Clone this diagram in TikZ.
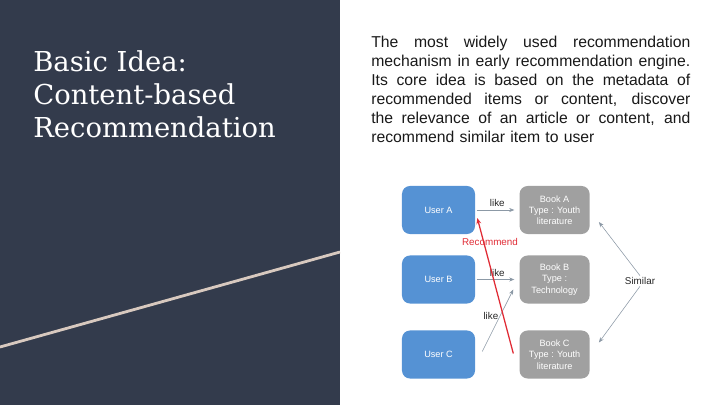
\documentclass[tikz,border=0pt]{standalone}
\usepackage{fontspec}
\setmainfont{Liberation Sans}
\newfontfamily\titlefont{DejaVu Serif}
\usetikzlibrary{arrows.meta, positioning, calc}
\definecolor{cpanel}{HTML}{333B4C}
\definecolor{cstripe}{HTML}{D8C9BF}
\definecolor{cuser}{HTML}{5592D4}
\definecolor{cbook}{HTML}{A0A0A0}
\definecolor{cline}{HTML}{8C99A6}
\definecolor{cred}{HTML}{E02B35}
\newcommand{\jline}[1]{\leavevmode\hbox to 7.975cm{\spaceskip=0.28em plus 3em\xspaceskip=\spaceskip #1}}
\tikzset{
  every picture/.style={x=0.025cm, y=-0.025cm},
  box/.style={fill=#1, rounded corners=0.2cm, align=center, text=white,
    font=\fontsize{6.5}{8}\selectfont, minimum height=1.2cm, inner sep=2pt},
  userbox/.style={box=cuser, minimum width=1.825cm},
  bookbox/.style={box=cbook, minimum width=1.75cm},
  link/.style={-{Stealth[length=1.3mm, width=1mm]}, draw=cline, line width=0.4pt},
  lbl/.style={font=\fontsize{7}{8}\selectfont, text=black!85, inner sep=1pt},
}

\begin{document}
\begin{tikzpicture}
  \useasboundingbox (0,0) rectangle (720,405);
  % left panel
  \fill[cpanel] (0,0) rectangle (340,405);
  \draw[cstripe, line width=2pt] (0,347) -- (340,252);
  \node[anchor=north west, inner sep=0, text=white, align=left,
        font=\titlefont\fontsize{19.5}{23.5}\selectfont] (title) at (33,50)
    {Basic Idea:\\Content-based\\Recommendation};
  % text
  \node[anchor=north west, inner sep=0, text width=7.975cm, align=left, text=black!90,
        font=\fontsize{11.2}{13.5}\selectfont] (intro) at (371,36)
    {\jline{The most widely used recommendation}\\
     \jline{mechanism in early recommendation engine.}\\
     \jline{Its core idea is based on the metadata of}\\
     \jline{recommended items or content, discover}\\
     \jline{the relevance of an article or content, and}\\
     recommend similar item to user};
  % users and books
  \node[userbox] (ua) at (438.5,210) {User A};
  \node[userbox] (ub) at (438.5,279.5) {User B};
  \node[userbox] (uc) at (438.5,354.5) {User C};
  \node[bookbox, right=1.1cm of ua] (ba) {Book A\\Type : Youth\\literature};
  \node[bookbox, right=1.1cm of ub] (bb) {Book B\\Type :\\Technology};
  \node[bookbox, right=1.1cm of uc] (bc) {Book C\\Type : Youth\\literature};
  \node[lbl] (sim) at (640,281) {Similar};
  % likes
  \draw[link, shorten <=1pt, shorten >=3.5pt] (ua) -- node[lbl, above=1.5pt] {like} (ba);
  \draw[link, shorten <=1pt, shorten >=3.5pt] (ub) -- node[lbl, above=1pt] {like} (bb);
  \draw[link] ([shift={(7,-3)}]uc.east) -- node[lbl, pos=0.57, left=0pt] {like} ([shift={(-6,10)}]bb.west);
  % recommend
  \draw[cred, line width=0.9pt, -{Stealth[length=1.5mm, width=1.2mm]}]
    ([shift={(-6,-1)}]bc.west) -- ([shift={(2,8)}]ua.east);
  \node[lbl, text=cred] (rec) at (490,242) {Recommend};
  % similar
  \draw[link] (sim.north) -- ([shift={(9,12)}]ba.east);
  \draw[link] (sim.south) -- ([shift={(9,-12)}]bc.east);
\end{tikzpicture}
\end{document}
